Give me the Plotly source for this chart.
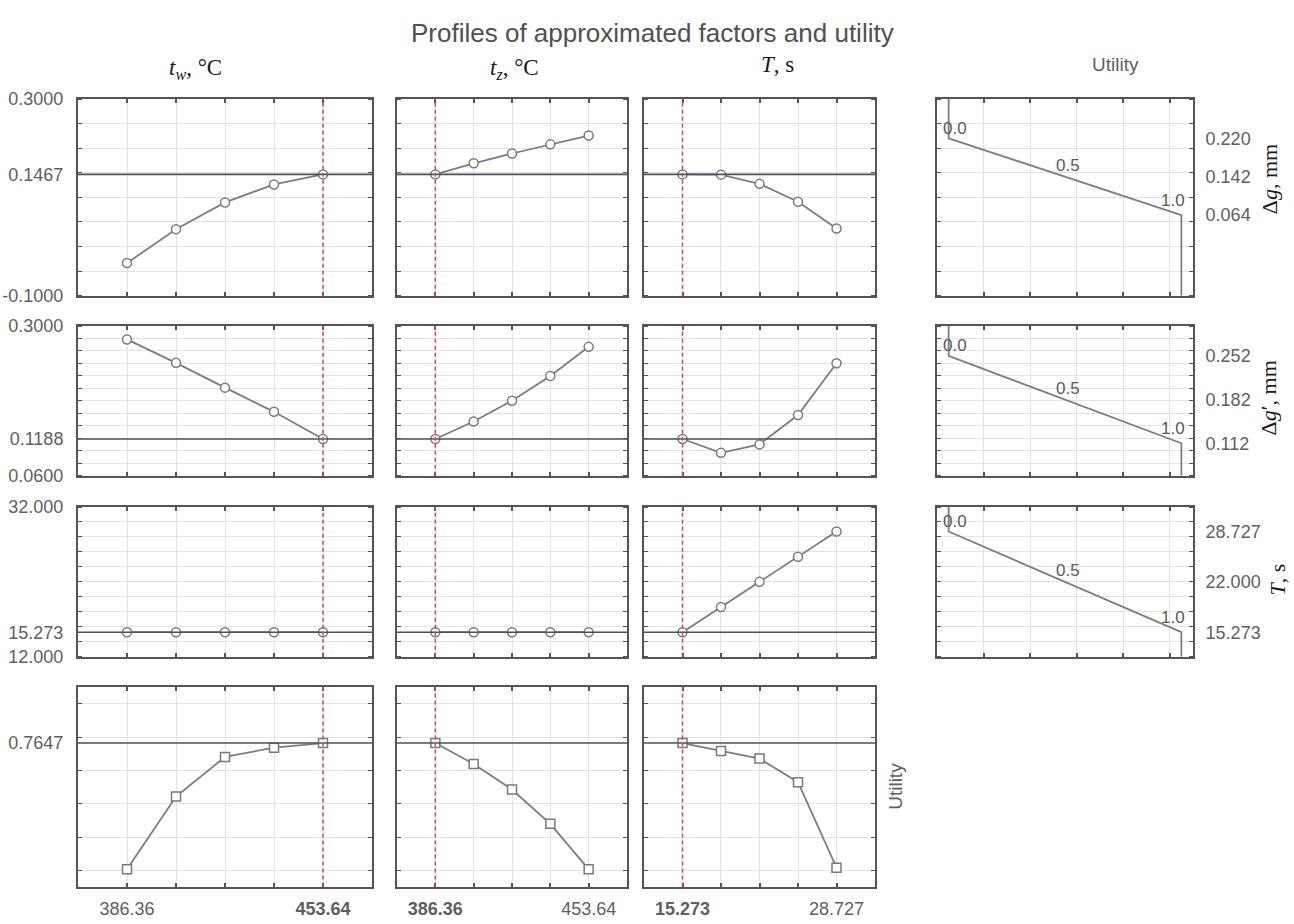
import plotly.graph_objects as go

W, H = 1294, 924

# ---------------- data ----------------
tw_levels = [386.36, 403.18, 420.00, 436.82, 453.64]
tz_levels = [386.36, 403.18, 420.00, 436.82, 453.64]
T_levels = [15.273, 18.636, 22.000, 25.364, 28.727]
tw_current = 453.64
tz_current = 386.36
T_current = 15.273

tw_ticktext = ["386.36", "", "", "", "<b>453.64</b>"]
tz_ticktext = ["<b>386.36</b>", "", "", "", "453.64"]
T_ticktext = ["<b>15.273</b>", "", "", "", "28.727"]

# response: delta g, mm
dg_tw = [-0.0337, 0.0353, 0.0897, 0.1262, 0.1467]
dg_tz = [0.1467, 0.1693, 0.1892, 0.2078, 0.2257]
dg_T = [0.1467, 0.1462, 0.1275, 0.0910, 0.0367]
dg_current = 0.1467

# response: delta g', mm
dgp_tw = [0.2785, 0.2409, 0.2012, 0.1624, 0.1188]
dgp_tz = [0.1188, 0.1468, 0.1803, 0.2200, 0.2666]
dgp_T = [0.1188, 0.0966, 0.1102, 0.1573, 0.2404]
dgp_current = 0.1188

# response: T, s
Tr_tw = [15.273, 15.273, 15.273, 15.273, 15.273]
Tr_tz = [15.273, 15.273, 15.273, 15.273, 15.273]
Tr_T = [15.273, 18.636, 22.000, 25.364, 28.727]
Tr_current = 15.273

# utility
util_tw = [0.385, 0.604, 0.723, 0.751, 0.7647]
util_tz = [0.7647, 0.702, 0.625, 0.522, 0.385]
util_T = [0.7647, 0.741, 0.718, 0.647, 0.390]
util_current = 0.7647

# desirability functions (utility vs response)
desir_x = [0.0, 0.0, 1.0, 1.0]
dg_desir_y = [0.300, 0.220, 0.064, -0.100]
dgp_desir_y = [0.300, 0.252, 0.112, 0.060]
Tr_desir_y = [32.0, 28.727, 15.273, 12.0]
desir_labels = ["0.0", "0.5", "1.0"]

# axis settings
row_ranges = [[-0.1, 0.3], [0.06, 0.3], [12.0, 32.0], [0.3332, 0.9332]]
row_tickvals = [[0.3, 0.1467, -0.1], [0.3, 0.1188, 0.06], [32.0, 15.273, 12.0], [0.7647]]
row_ticktext = [["0.3000", "0.1467", "-0.1000"], ["0.3000", "0.1188", "0.0600"],
                ["32.000", "15.273", "12.000"], ["0.7647"]]
row_minor = [(-0.1, 0.05), (0.06, 0.02), (12.0, 2.0), (0.8823, 0.1)]
util_right_vals = [[0.220, 0.142, 0.064], [0.252, 0.182, 0.112], [28.727, 22.000, 15.273]]
util_right_text = [["0.220", "0.142", "0.064"], ["0.252", "0.182", "0.112"],
                   ["28.727", "22.000", "15.273"]]
resp_titles = ["Δ<i>g</i>, mm", "Δ<i>g</i>′, mm", "<i>T</i>, s"]

# ---------------- layout geometry (pixels) ----------------
col_px = [(78, 372), (397, 627), (644, 875)]
util_col_px = (937, 1193)
row_px = [(91, 292), (323, 476), (508, 661), (692, 896)]

def xdom(a, b):
    return [a / W, b / W]

def ydom(t, b):
    return [1 - b / H, 1 - t / H]

def sfx(k):
    return "" if k == 1 else str(k)

FRAME = "#555555"
GRID = "#e3e3e3"
TICKFONT = dict(family="Liberation Sans, Arial, sans-serif", size=18, color="#606060")
LINE = "#7d7d7d"

fig = go.Figure()
layout = dict(width=W, height=H, margin=dict(l=0, r=0, t=0, b=0),
              paper_bgcolor="white", plot_bgcolor="white", showlegend=False)
shapes = []
annotations = []

levels = [tw_levels, tz_levels, T_levels]
currents = [tw_current, tz_current, T_current]
ticktexts = [tw_ticktext, tz_ticktext, T_ticktext]
responses = [
    [dg_tw, dg_tz, dg_T],
    [dgp_tw, dgp_tz, dgp_T],
    [Tr_tw, Tr_tz, Tr_T],
    [util_tw, util_tz, util_T],
]
resp_current = [dg_current, dgp_current, Tr_current, util_current]

k = 0
for r in range(4):
    for c in range(3):
        k += 1
        s = sfx(k)
        lv = levels[c]
        step = lv[1] - lv[0]
        xa = dict(domain=xdom(*col_px[c]), anchor="y" + s,
                  range=[lv[0] - step, lv[-1] + step],
                  tickmode="array", tickvals=lv, ticktext=ticktexts[c],
                  showticklabels=(r == 3), ticks="inside", ticklen=4, tickwidth=1.5,
                  tickcolor=FRAME, showgrid=True, gridcolor=GRID, gridwidth=1,
                  showline=True, linecolor=FRAME, linewidth=2, mirror="ticks",
                  zeroline=False, tickfont=TICKFONT, ticklabelstandoff=5,
                  fixedrange=True)
        t0, dt = row_minor[r]
        ya = dict(domain=ydom(*row_px[r]), anchor="x" + s,
                  range=row_ranges[r], tickmode="array",
                  tickvals=row_tickvals[r], ticktext=row_ticktext[r],
                  showticklabels=(c == 0), ticks="", showgrid=False,
                  minor=dict(tickmode="linear", tick0=t0, dtick=dt, ticks="inside",
                             ticklen=4, tickcolor=FRAME, showgrid=True,
                             gridcolor=GRID, gridwidth=1),
                  showline=True, linecolor=FRAME, linewidth=2, mirror="ticks",
                  zeroline=False, tickfont=TICKFONT, ticklabelstandoff=9,
                  fixedrange=True)
        layout["xaxis" + s] = xa
        layout["yaxis" + s] = ya
        shapes.append(dict(type="line", xref="x%s domain" % s, yref="y" + s,
                           x0=0, x1=1, y0=resp_current[r], y1=resp_current[r],
                           line=dict(color="#4d4f5c", width=1.6), layer="above"))
        shapes.append(dict(type="line", xref="x" + s, yref="y%s domain" % s,
                           x0=currents[c], x1=currents[c], y0=0, y1=1,
                           line=dict(color="#e0405c", width=1.5, dash="4px,3px"),
                           layer="above"))
        sym = "square" if r == 3 else "circle"
        fig.add_trace(go.Scatter(
            x=lv, y=responses[r][c], xaxis="x" + s, yaxis="y" + s,
            mode="lines+markers", line=dict(color=LINE, width=1.8),
            marker=dict(symbol=sym, size=9, color="white",
                        line=dict(color="#7a7a7a", width=1.5)),
            hoverinfo="skip"))

# utility (desirability) panels
desir_sets = [dg_desir_y, dgp_desir_y, Tr_desir_y]
for r in range(3):
    k += 1
    s = sfx(k)
    xa = dict(domain=xdom(*util_col_px), anchor="y" + s, range=[-0.05, 1.05],
              tickmode="linear", tick0=0.15, dtick=0.2, showticklabels=False,
              ticks="inside", ticklen=4, tickwidth=1.5, tickcolor=FRAME,
              showgrid=True, gridcolor=GRID, showline=True, linecolor=FRAME,
              linewidth=2, mirror="ticks", zeroline=False, fixedrange=True)
    t0, dt = row_minor[r]
    ya = dict(domain=ydom(*row_px[r]), anchor="x" + s, side="right",
              range=row_ranges[r], tickmode="array", tickvals=util_right_vals[r],
              ticktext=util_right_text[r], ticks="", showgrid=False,
              minor=dict(tickmode="linear", tick0=t0, dtick=dt, ticks="inside",
                         ticklen=4, tickcolor=FRAME, showgrid=True,
                         gridcolor=GRID, gridwidth=1),
              showline=True, linecolor=FRAME, linewidth=2, mirror="ticks",
              zeroline=False, tickfont=TICKFONT, ticklabelstandoff=7,
              fixedrange=True)
    layout["xaxis" + s] = xa
    layout["yaxis" + s] = ya
    dy = desir_sets[r]
    fig.add_trace(go.Scatter(x=desir_x, y=dy, xaxis="x" + s, yaxis="y" + s,
                             mode="lines", line=dict(color="#7d7d7d", width=1.8),
                             hoverinfo="skip"))
    lab_font = dict(family="Liberation Sans, Arial, sans-serif", size=17, color="#5a5a5a")
    annotations.append(dict(x=desir_x[1], y=dy[1], xref="x" + s, yref="y" + s,
                            text=desir_labels[0], showarrow=False, xanchor="left",
                            yanchor="middle", xshift=-8, yshift=10, font=lab_font))
    annotations.append(dict(x=(desir_x[1] + desir_x[2]) / 2, y=(dy[1] + dy[2]) / 2,
                            xref="x" + s, yref="y" + s,
                            text=desir_labels[1], showarrow=False, xanchor="center",
                            yanchor="middle", xshift=3, yshift=11, font=lab_font))
    annotations.append(dict(x=desir_x[2], y=dy[2], xref="x" + s, yref="y" + s,
                            text=desir_labels[2], showarrow=False, xanchor="right",
                            yanchor="middle", xshift=6, yshift=15, font=lab_font))
    tx = [1269, 1268, 1277][r]
    ty = [173, 397, 582][r]
    annotations.append(dict(x=tx / W, y=1 - ty / H, xref="paper", yref="paper",
                            text=resp_titles[r], showarrow=False, textangle=-90,
                            xanchor="center", yanchor="middle",
                            font=dict(family="Liberation Serif, Times New Roman, serif",
                                      size=22, color="#1a1a1a")))

# titles
annotations.append(dict(x=652 / W, y=1 - 23 / H, xref="paper", yref="paper",
                        text="Profiles of approximated factors and utility",
                        showarrow=False, xanchor="center", yanchor="middle",
                        font=dict(family="Liberation Sans, Arial, sans-serif",
                                  size=26, color="#505050")))
serif = dict(family="Liberation Serif, Times New Roman, serif", size=23, color="#1a1a1a")
col_heads = ["<i>t</i><sub><i>w</i></sub>, °C", "<i>t</i><sub><i>z</i></sub>, °C", "<i>T</i>, s"]
head_x = [195, 514, 777]
head_y = [60, 60, 56]
for txt, hx, hy in zip(col_heads, head_x, head_y):
    annotations.append(dict(x=hx / W, y=1 - hy / H, xref="paper", yref="paper",
                            text=txt, showarrow=False, xanchor="center",
                            yanchor="middle", font=serif))
sans_lab = dict(family="Liberation Sans, Arial, sans-serif", size=19, color="#606060")
annotations.append(dict(x=1115 / W, y=1 - 56 / H, xref="paper", yref="paper",
                        text="Utility", showarrow=False, xanchor="center",
                        yanchor="middle", font=sans_lab))
annotations.append(dict(x=896 / W, y=1 - 794 / H, xref="paper", yref="paper",
                        text="Utility", showarrow=False, xanchor="center",
                        yanchor="middle", textangle=-90, font=sans_lab))

layout["shapes"] = shapes
layout["annotations"] = annotations
fig.update_layout(**layout)
fig.write_html("out.html")
